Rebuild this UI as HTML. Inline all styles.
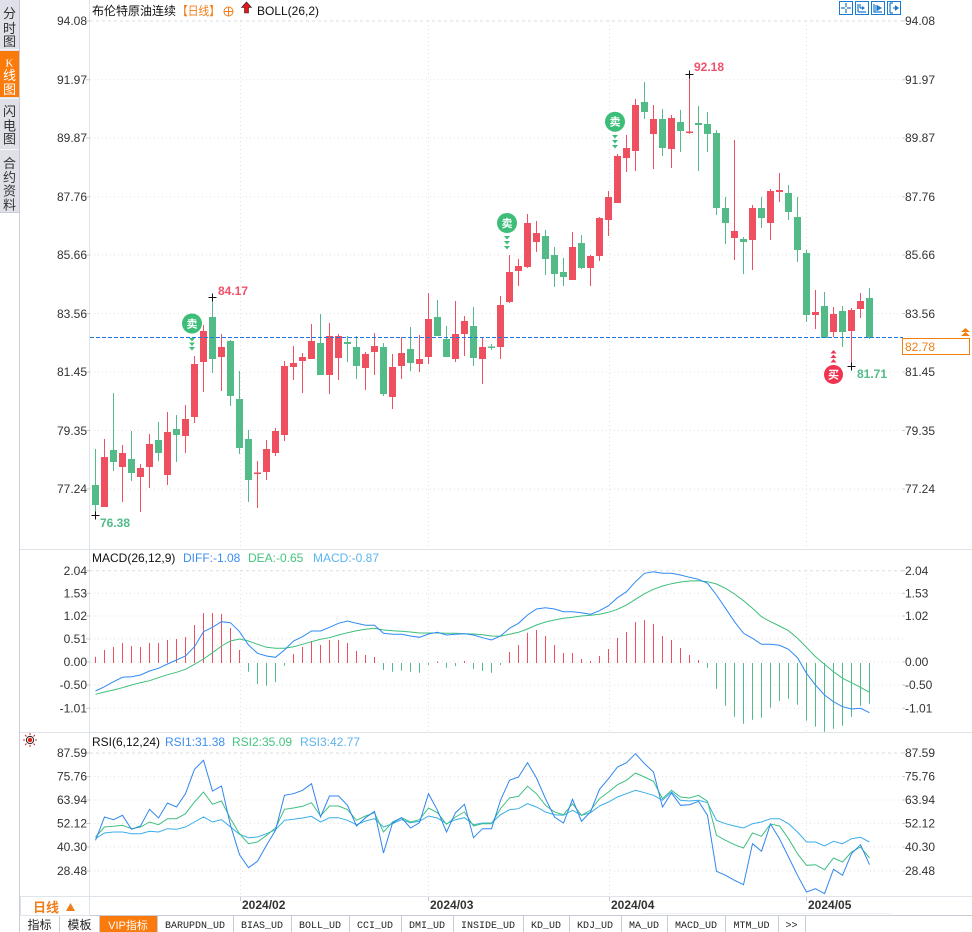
<!DOCTYPE html>
<html><head><meta charset="utf-8"><style>
html,body{margin:0;padding:0;background:#fff;}
svg{display:block;}
text{font-family:"Liberation Sans","Noto Sans CJK SC",sans-serif;}
.ax text{font-size:12px;fill:#333;}
.mono text{font-family:"Liberation Mono","Noto Sans CJK SC",monospace;font-size:10px;fill:#222;}
text.kser{font-family:"Liberation Serif",serif;}
</style></head><body>
<svg width="972" height="932" viewBox="0 0 972 932" xmlns="http://www.w3.org/2000/svg">
<rect x="0" y="0" width="972" height="932" fill="#fff"/>
<!-- sidebar -->
<rect x="0" y="0" width="19" height="212" fill="#dfe0e8"/>
<rect x="0" y="51" width="19" height="46" fill="#fb7a0c"/>
<line x1="0" y1="49.5" x2="19" y2="49.5" stroke="#f4f4f8"/>
<line x1="0" y1="98.5" x2="19" y2="98.5" stroke="#f4f4f8"/>
<line x1="0" y1="149.5" x2="19" y2="149.5" stroke="#f4f4f8"/>
<line x1="19.5" y1="0" x2="19.5" y2="932" stroke="#c9ccd4"/>
<line x1="0" y1="212.5" x2="19" y2="212.5" stroke="#c9ccd4"/>
<g font-size="13" fill="#333" text-anchor="middle">
<text x="9.5" y="18">分</text><text x="9.5" y="33">时</text><text x="9.5" y="46">图</text>
<text x="9.5" y="66.5" fill="#fff" font-size="11" class="kser">K</text><text x="9.5" y="80" fill="#fff">线</text><text x="9.5" y="94" fill="#fff">图</text>
<text x="9.5" y="116">闪</text><text x="9.5" y="130.5">电</text><text x="9.5" y="143.5">图</text>
<text x="9.5" y="168">合</text><text x="9.5" y="182">约</text><text x="9.5" y="195.5">资</text><text x="9.5" y="209.5">料</text>
</g>
<!-- axis frame lines -->
<line x1="89.5" y1="0" x2="89.5" y2="915" stroke="#dfe4ea"/>
<line x1="20" y1="549.5" x2="972" y2="549.5" stroke="#dfe4ea"/>
<line x1="20" y1="732.5" x2="972" y2="732.5" stroke="#dfe4ea"/>
<line x1="20" y1="896.5" x2="972" y2="896.5" stroke="#dfe4ea"/>
<line x1="20" y1="915.5" x2="972" y2="915.5" stroke="#c9ccd4"/>
<line x1="643" y1="913.5" x2="892" y2="913.5" stroke="#eef2f6"/>
<!-- grid main -->
<g stroke="#e2e2e2" stroke-dasharray="1,3">
<line x1="90" y1="79.7" x2="903" y2="79.7"/><line x1="90" y1="138" x2="903" y2="138"/><line x1="90" y1="196.7" x2="903" y2="196.7"/><line x1="90" y1="255" x2="903" y2="255"/><line x1="90" y1="313.5" x2="903" y2="313.5"/><line x1="90" y1="372" x2="903" y2="372"/><line x1="90" y1="430.5" x2="903" y2="430.5"/><line x1="90" y1="489" x2="903" y2="489"/>
<line x1="90" y1="593.3" x2="903" y2="593.3"/><line x1="90" y1="616" x2="903" y2="616"/><line x1="90" y1="639" x2="903" y2="639"/><line x1="90" y1="662" x2="903" y2="662"/><line x1="90" y1="685" x2="903" y2="685"/><line x1="90" y1="708.3" x2="903" y2="708.3"/>
<line x1="90" y1="776.5" x2="903" y2="776.5"/><line x1="90" y1="800" x2="903" y2="800"/><line x1="90" y1="823.5" x2="903" y2="823.5"/><line x1="90" y1="847" x2="903" y2="847"/><line x1="90" y1="871" x2="903" y2="871"/>
<line x1="240.5" y1="21" x2="240.5" y2="548"/><line x1="428.5" y1="21" x2="428.5" y2="548"/><line x1="609.5" y1="21" x2="609.5" y2="548"/><line x1="806.5" y1="21" x2="806.5" y2="548"/>
<line x1="240.5" y1="570" x2="240.5" y2="731"/><line x1="428.5" y1="570" x2="428.5" y2="731"/><line x1="609.5" y1="570" x2="609.5" y2="731"/><line x1="806.5" y1="570" x2="806.5" y2="731"/>
<line x1="240.5" y1="753" x2="240.5" y2="895"/><line x1="428.5" y1="753" x2="428.5" y2="895"/><line x1="609.5" y1="753" x2="609.5" y2="895"/><line x1="806.5" y1="753" x2="806.5" y2="895"/>
</g>
<g stroke="#dcdcdc" stroke-dasharray="3,3">
<line x1="90" y1="21" x2="903" y2="21"/><line x1="90" y1="570.7" x2="903" y2="570.7"/><line x1="90" y1="753" x2="903" y2="753"/>
</g>
<!-- axis tick marks -->
<g stroke="#c8ccd2">
<path d="M86 21H90M86 79.7H90M86 138H90M86 196.7H90M86 255H90M86 313.5H90M86 372H90M86 430.5H90M86 489H90M86 570.7H90M86 593.3H90M86 616H90M86 639H90M86 662H90M86 685H90M86 708.3H90M86 753H90M86 776.5H90M86 800H90M86 823.5H90M86 847H90M86 871H90"/>
<path d="M902 21H905M902 79.7H905M902 138H905M902 196.7H905M902 255H905M902 313.5H905M902 372H905M902 430.5H905M902 489H905M902 570.7H905M902 593.3H905M902 616H905M902 662H905M902 685H905M902 708.3H905M902 753H905M902 776.5H905M902 800H905M902 823.5H905M902 847H905M902 871H905"/>
<path d="M240.5 897V901M428.5 897V901M609.5 897V901M806.5 897V901"/>
</g>
<!-- left axis labels -->
<g class="ax" text-anchor="end">
<text x="87" y="25">94.08</text><text x="87" y="84">91.97</text><text x="87" y="142">89.87</text><text x="87" y="201">87.76</text><text x="87" y="259">85.66</text><text x="87" y="318">83.56</text><text x="87" y="376">81.45</text><text x="87" y="435">79.35</text><text x="87" y="493">77.24</text>
<text x="87" y="575">2.04</text><text x="87" y="597.5">1.53</text><text x="87" y="620">1.02</text><text x="87" y="643">0.51</text><text x="87" y="666">0.00</text><text x="87" y="689">-0.50</text><text x="87" y="712.5">-1.01</text>
<text x="87" y="757">87.59</text><text x="87" y="780.5">75.76</text><text x="87" y="804">63.94</text><text x="87" y="827.5">52.12</text><text x="87" y="851">40.30</text><text x="87" y="875">28.48</text>
</g>
<g class="ax">
<text x="905" y="25">94.08</text><text x="905" y="84">91.97</text><text x="905" y="142">89.87</text><text x="905" y="201">87.76</text><text x="905" y="259">85.66</text><text x="905" y="318">83.56</text><text x="905" y="376">81.45</text><text x="905" y="435">79.35</text><text x="905" y="493">77.24</text>
<text x="905" y="575">2.04</text><text x="905" y="597.5">1.53</text><text x="905" y="620">1.02</text><text x="905" y="666">0.00</text><text x="905" y="689">-0.50</text><text x="905" y="712.5">-1.01</text>
<text x="905" y="757">87.59</text><text x="905" y="780.5">75.76</text><text x="905" y="804">63.94</text><text x="905" y="827.5">52.12</text><text x="905" y="851">40.30</text><text x="905" y="875">28.48</text>
</g>
<!-- header main -->
<text x="92" y="15" font-size="12" fill="#111">布伦特原油连续</text>
<text x="177" y="15" font-size="12" fill="#f07d1a" textLength="43" lengthAdjust="spacingAndGlyphs">【日线】</text>
<circle cx="228.5" cy="11.5" r="4.5" fill="none" stroke="#f07d1a"/>
<path d="M224 11.5H233M228.5 7V16" stroke="#f07d1a"/>
<path d="M241.5 7.5L246.5 2L251.5 7.5H248.5V13H244.5V7.5Z" fill="#e8141c" stroke="#222" stroke-width="0.6"/>
<text x="257" y="15" font-size="12" fill="#111">BOLL(26,2)</text>
<!-- top right icons -->
<g fill="none" stroke="#1a7bd0">
<rect x="839.5" y="1.5" width="13" height="13"/><rect x="855.5" y="1.5" width="13" height="13"/><rect x="871.5" y="1.5" width="13" height="13"/><rect x="887.5" y="1.5" width="13" height="13"/>
<path d="M846 3V7M846 9V13M841 8H845M847 8H851M858 4V12M858 12H866M860 4V8M860 8L864 8" stroke-width="1.2"/>
<path d="M874 4V12H882M876 5V11" stroke-width="1.2"/>
<path d="M890 3V13M890 3H893M890 13H893M893 8H898" stroke-width="1.2"/>
</g>
<path d="M877 5L882 8L877 11Z" fill="#1a7bd0"/><path d="M895 5L899 8L895 11Z" fill="#1a7bd0"/>
<path d="M862 6L865 8L862 10Z" fill="#1a7bd0"/>

<!-- candles -->
<path fill="none" stroke="#52bb88" stroke-width="1" d="M95.5 449V515M113.5 393V471M131.5 431V481M158.5 422V461M176.5 415V462M212.5 297V373M230.5 340V406M239.5 371V454M248.5 430V502M320.5 314V375M347.5 336V362M356.5 336V379M383.5 343V396M410.5 327V371M437.5 300V336M446.5 326V357M473.5 307V366M491.5 344V350M545.5 230V275M554.5 247V287M563.5 258V286M581.5 235V269M644.5 82V119M662.5 109V156M680.5 110V152M698.5 106V171M707.5 112V152M716.5 130V215M725.5 197V244M743.5 237V274M761.5 197V228M788.5 185V220M797.5 197V262M806.5 250V322M824.5 292V338M842.5 306V347M869.5 288V339"/>
<path fill="#52bb88" d="M92 485h7v20h-7zM110 450h7v12h-7zM128 459h7v14h-7zM155 440h7v13h-7zM173 429h7v6h-7zM209 317h7v42h-7zM227 341h7v55h-7zM236 399h7v49h-7zM245 439h7v41h-7zM317 343h7v32h-7zM344 342h7v2h-7zM353 347h7v19h-7zM380 347h7v47h-7zM407 349h7v14h-7zM434 317h7v19h-7zM443 339h7v18h-7zM470 326h7v32h-7zM488 346.5h7v1.5h-7zM542 236h7v23h-7zM551 255h7v19h-7zM560 272h7v5h-7zM578 243h7v25h-7zM641 102h7v10h-7zM659 119h7v29h-7zM677 122h7v9h-7zM695 123h7v2h-7zM704 124h7v10h-7zM713 133h7v75h-7zM722 208h7v15h-7zM740 239h7v3h-7zM758 208h7v10h-7zM785 193h7v19h-7zM794 217h7v33h-7zM803 253h7v62h-7zM821 306h7v32h-7zM839 311h7v21h-7zM866 298h7v40h-7z"/>
<path fill="none" stroke="#ee5060" stroke-width="1" d="M104.5 439V507M122.5 445V502M140.5 464V512M149.5 434V488M167.5 412V485M185.5 405V453M194.5 356V423M203.5 325V392M221.5 334V391M257.5 461V508M266.5 440V480M275.5 428V456M284.5 361V441M293.5 346V380M302.5 353V393M311.5 324V359M329.5 323V394M338.5 334V380M365.5 352V390M374.5 333V375M392.5 354V409M401.5 337V379M419.5 335V372M428.5 293V364M455.5 301V362M464.5 316V356M482.5 337V384M500.5 296V359M509.5 255V303M518.5 259V286M527.5 214V268M536.5 221V252M572.5 232V280M590.5 255V286M599.5 217V261M608.5 191V236M617.5 154V203M626.5 135V172M635.5 99V171M653.5 105V169M671.5 115V168M689.5 74V134M734.5 140V260M752.5 205V270M770.5 189V240M779.5 173V202M815.5 290V329M833.5 307V337M851.5 308V366M860.5 293V318"/>
<path fill="#ee5060" d="M101 457h7v50h-7zM119 453h7v14h-7zM137 468h7v9h-7zM146 444h7v23h-7zM164 432h7v43h-7zM182 419h7v17h-7zM191 364h7v53h-7zM200 331h7v31h-7zM218 347h7v10h-7zM254 472.5h7v1.5h-7zM263 449h7v23h-7zM272 431h7v22h-7zM281 366h7v69h-7zM290 363h7v4h-7zM299 357h7v4h-7zM308 341h7v18h-7zM326 336h7v39h-7zM335 336h7v22h-7zM362 354h7v14h-7zM371 346h7v6h-7zM389 367h7v30h-7zM398 353h7v13h-7zM416 359h7v5h-7zM425 319h7v38h-7zM452 334h7v25h-7zM461 321h7v13h-7zM479 347h7v12h-7zM497 305h7v42h-7zM506 272h7v30h-7zM515 266h7v5h-7zM524 223h7v44h-7zM533 233h7v9h-7zM569 247h7v33h-7zM587 256h7v12h-7zM596 218h7v38h-7zM605 197h7v23h-7zM614 156h7v47h-7zM623 148h7v10h-7zM632 105h7v46h-7zM650 119h7v15h-7zM668 118h7v31h-7zM686 131.5h7v1.5h-7zM731 231h7v7h-7zM749 208h7v32h-7zM767 191h7v32h-7zM776 190h7v2h-7zM812 312h7v3h-7zM830 314h7v18h-7zM848 310h7v21h-7zM857 301h7v8h-7z"/>

<!-- last price dashed line -->
<line x1="90" y1="337.5" x2="903" y2="337.5" stroke="#1e78e0" stroke-dasharray="4,2"/>
<rect x="902.5" y="338.5" width="67" height="16" fill="#fff" stroke="#f08010"/>
<text x="905" y="351" font-size="12" fill="#f08010">82.78</text>
<path d="M961 332L965.5 328L970 332ZM961 336L965.5 332L970 336Z" fill="#f08010"/>

<!-- high/low markers -->
<g stroke="#111" stroke-width="1">
<path d="M208.5 297.5H216.5M212.5 293.5V301.5"/>
<path d="M91.5 515.5H99.5M95.5 511.5V519.5"/>
<path d="M685.5 74.5H693.5M689.5 70.5V78.5"/>
<path d="M847.5 366.5H855.5M851.5 362.5V370.5"/>
</g>
<g font-size="12" font-weight="bold">
<text x="218" y="295" fill="#f0506a">84.17</text>
<text x="100" y="527" fill="#52bb88">76.38</text>
<text x="694" y="71" fill="#f0506a">92.18</text>
<text x="857" y="378" fill="#52bb88">81.71</text>
</g>
<!-- sell markers -->
<g fill="#3dbe78">
<circle cx="192" cy="323.5" r="10"/>
<path d="M189 338h6l-3 3.5zM189 342.5h6l-3 3.5zM189 347h6l-3 3.5z"/>
<circle cx="507" cy="223" r="10"/>
<path d="M504 236h6l-3 3.5zM504 241h6l-3 3.5zM504 246h6l-3 3.5z"/>
<circle cx="615" cy="121.7" r="10"/>
<path d="M612 135h6l-3 3.5zM612 140h6l-3 3.5zM612 145h6l-3 3.5z"/>
</g>
<g font-size="11" fill="#fff" text-anchor="middle" font-weight="bold">
<text x="192" y="327.5">卖</text><text x="507" y="227">卖</text><text x="615" y="125.7">卖</text>
</g>
<g fill="#f0344f">
<circle cx="833.5" cy="374.5" r="9.5"/>
<path d="M830.5 353.5h6l-3 -3.5zM830.5 358h6l-3 -3.5zM830.5 362.5h6l-3 -3.5z"/>
</g>
<text x="833.5" y="378.5" font-size="11" fill="#fff" text-anchor="middle" font-weight="bold">买</text>

<!-- MACD header -->
<text x="92" y="562" font-size="12" fill="#111">MACD(26,12,9)</text>
<text x="183" y="562" font-size="12" fill="#3d8ef0">DIFF:-1.08</text>
<text x="248" y="562" font-size="12" fill="#45c47f">DEA:-0.65</text>
<text x="313" y="562" font-size="12" fill="#5bb5ee">MACD:-0.87</text>
<!-- MACD bars -->
<path fill="none" stroke="#ee5060" stroke-width="1" d="M95.5 663V656.7M104.5 663V650M113.5 663V647M122.5 663V643M131.5 663V646M140.5 663V647M149.5 663V643M158.5 663V643M167.5 663V640M176.5 663V639M185.5 663V637M194.5 663V625M203.5 663V613M212.5 663V613M221.5 663V614M230.5 663V628M239.5 663V650M293.5 663V654M302.5 663V647M311.5 663V641M320.5 663V645M329.5 663V640M338.5 663V640M347.5 663V643M356.5 663V651M365.5 663V655M374.5 663V657M437.5 663V661.5M464.5 663V661M509.5 663V652M518.5 663V645M527.5 663V632.7M536.5 663V630M545.5 663V636M554.5 663V645M563.5 663V653M572.5 663V653M581.5 663V659M590.5 663V661M599.5 663V656M608.5 663V649M617.5 663V638M626.5 663V632M635.5 663V622M644.5 663V620M653.5 663V624M662.5 663V636M671.5 663V640M680.5 663V648M689.5 663V655M698.5 663V660"/>
<path fill="none" stroke="#52bb88" stroke-width="1" d="M248.5 663V671.7M257.5 663V684M266.5 663V685.7M275.5 663V682M284.5 663V665.7M383.5 663V670M392.5 663V671.7M401.5 663V670.7M410.5 663V671.7M419.5 663V672.7M428.5 663V665M446.5 663V667.7M455.5 663V666M473.5 663V669M482.5 663V671M491.5 663V672.7M500.5 663V665M707.5 663V667.7M716.5 663V688.7M725.5 663V705.7M734.5 663V716.7M743.5 663V723.7M752.5 663V719.7M761.5 663V717.7M770.5 663V707.7M779.5 663V700.7M788.5 663V698.7M797.5 663V704.7M806.5 663V720.7M815.5 663V726.7M824.5 663V731.7M833.5 663V728.7M842.5 663V725.7M851.5 663V716.7M860.5 663V705.7M869.5 663V703.7"/>
<polyline fill="none" stroke="#3dbf7c" stroke-width="1" points="95.5,694.3 104.5,692 113.5,690 122.5,687.7 131.5,685 140.5,682.7 149.5,680.7 158.5,677.7 167.5,674.7 176.5,672.3 185.5,669.3 194.5,664.3 203.5,659 212.5,652.7 221.5,646 230.5,641 239.5,639 248.5,641 257.5,644.3 266.5,647.3 275.5,648.3 284.5,648.3 293.5,646.7 302.5,644.3 311.5,641.7 320.5,639.3 329.5,637.7 338.5,635 347.5,632.7 356.5,630.7 365.5,629.3 374.5,628.3 383.5,630 392.5,630.7 401.5,631.3 410.5,632 419.5,633 428.5,633 437.5,633 446.5,633.3 455.5,633.3 464.5,633.7 473.5,634 482.5,634.7 491.5,636 500.5,636.3 509.5,634.3 518.5,632.3 527.5,629 536.5,625 545.5,622 554.5,620 563.5,618.3 572.5,617.3 581.5,616 590.5,615.3 599.5,614.3 608.5,612.3 617.5,609.3 626.5,605 635.5,599.3 644.5,593.7 653.5,589.3 662.5,586 671.5,583.7 680.5,582 689.5,581 698.5,580.7 707.5,581.7 716.5,584 725.5,588.3 734.5,594 743.5,600.7 752.5,608.3 761.5,616.7 770.5,621.7 779.5,626 788.5,630.7 797.5,638.3 806.5,647.3 815.5,656.7 824.5,664.3 833.5,671.7 842.5,678.3 851.5,682.7 860.5,687.3 869.5,692.3"/>
<polyline fill="none" stroke="#2f8af5" stroke-width="1" points="95.5,691 104.5,686.7 113.5,681.7 122.5,677.3 131.5,676.7 140.5,675 149.5,671 158.5,668.3 167.5,664 176.5,660 185.5,656 194.5,646.7 203.5,631.7 212.5,627.3 221.5,621.7 230.5,622.7 239.5,631.7 248.5,645 257.5,653.3 266.5,656 275.5,657.3 284.5,650 293.5,641 302.5,636.7 311.5,631 320.5,631 329.5,627.3 338.5,623.3 347.5,621 356.5,623.3 365.5,625.3 374.5,625.3 383.5,633.3 392.5,634.3 401.5,634.3 410.5,636 419.5,637.3 428.5,634 437.5,632.3 446.5,635 455.5,634.3 464.5,633.7 473.5,635 482.5,637.7 491.5,640 500.5,636 509.5,628.3 518.5,623.3 527.5,615 536.5,609 545.5,607.7 554.5,609 563.5,611.7 572.5,611.7 581.5,612.7 590.5,614.3 599.5,610.7 608.5,605.7 617.5,597.7 626.5,591.7 635.5,581.7 644.5,573.3 653.5,571.7 662.5,573.3 671.5,573.3 680.5,575 689.5,577.3 698.5,579.3 707.5,583.3 716.5,595 725.5,608.3 734.5,621.7 743.5,633.3 752.5,638.3 761.5,644.3 770.5,644.3 779.5,645.3 788.5,649.3 797.5,657.7 806.5,673.3 815.5,685 824.5,695 833.5,701.7 842.5,706.7 851.5,709 860.5,708.3 869.5,712.7"/>

<!-- RSI header -->
<g transform="translate(30,740)">
<path d="M-7 0H-5M5 0H7M0 -7V-5M0 5V7M-5 -5L-3.5 -3.5M5 -5L3.5 -3.5M-5 5L-3.5 3.5M5 5L3.5 3.5" stroke="#e0201c" stroke-width="1"/>
<circle r="3.6" fill="none" stroke="#222" stroke-width="1"/>
<circle r="2.2" fill="#e0201c"/>
</g>
<text x="92" y="746" font-size="12" fill="#111">RSI(6,12,24)</text>
<text x="165" y="746" font-size="12" fill="#3d8ef0">RSI1:31.38</text>
<text x="232" y="746" font-size="12" fill="#45c47f">RSI2:35.09</text>
<text x="300" y="746" font-size="12" fill="#5bb5ee">RSI3:42.77</text>
<polyline fill="none" stroke="#3aaee8" stroke-width="1" points="95.5,838.7 104.5,833 113.5,832 122.5,832 131.5,833.7 140.5,833.7 149.5,831.3 158.5,832 167.5,828.7 176.5,829.3 185.5,827 194.5,822 203.5,817 212.5,822 221.5,819.7 230.5,827 239.5,834.3 248.5,837.7 257.5,837 266.5,833.7 275.5,829.7 284.5,820.3 293.5,819.3 302.5,818 311.5,816.3 320.5,822 329.5,817.7 338.5,817.7 347.5,820.3 356.5,824.7 365.5,821 374.5,818.7 383.5,827 392.5,823.7 401.5,819.7 410.5,822.7 419.5,821.3 428.5,816 437.5,818 446.5,823.7 455.5,819.7 464.5,817.7 473.5,824.7 482.5,823 491.5,823 500.5,814.7 509.5,809.7 518.5,808.7 527.5,803.7 536.5,807 545.5,812 554.5,814.7 563.5,815.3 572.5,810.3 581.5,815.3 590.5,812.7 599.5,806 608.5,802 617.5,797 626.5,793.7 635.5,790.3 644.5,792.7 653.5,795.3 662.5,800.3 671.5,792 680.5,800.3 689.5,801 698.5,800.3 707.5,802.7 716.5,820.3 725.5,823.7 734.5,826 743.5,828 752.5,823.7 761.5,822 770.5,818.7 779.5,818.7 788.5,823.7 797.5,832 806.5,842 815.5,842 824.5,846 833.5,841.3 842.5,843.7 851.5,838.7 860.5,837.3 869.5,842"/>
<polyline fill="none" stroke="#3fc080" stroke-width="1" points="95.5,837 104.5,827 113.5,826.3 122.5,825.3 131.5,828.7 140.5,827 149.5,822 158.5,824.7 167.5,818.7 176.5,818.7 185.5,813.7 194.5,802 203.5,792 212.5,804.3 221.5,801 230.5,818.7 239.5,833.7 248.5,843.7 257.5,842 266.5,835.3 275.5,828 284.5,809.3 293.5,808 302.5,806.3 311.5,802.7 320.5,816 329.5,806 338.5,806 347.5,809.7 356.5,820.3 365.5,816 374.5,812.7 383.5,832 392.5,822 401.5,817.7 410.5,822 419.5,819.7 428.5,808 437.5,812.7 446.5,824.3 455.5,817 464.5,812 473.5,826 482.5,823.7 491.5,823.7 500.5,808.7 509.5,798 518.5,796.3 527.5,786.3 536.5,793.7 545.5,805.3 554.5,812 563.5,814.7 572.5,803.7 581.5,815.3 590.5,810.3 599.5,798.7 608.5,792 617.5,784.7 626.5,780.3 635.5,773 644.5,777 653.5,781.3 662.5,798.7 671.5,790.3 680.5,797 689.5,798 698.5,795.3 707.5,801.3 716.5,835.3 725.5,840.3 734.5,844.7 743.5,848 752.5,833 761.5,836.3 770.5,824 779.5,826 788.5,838.7 797.5,853.7 806.5,865.3 815.5,864.7 824.5,869.7 833.5,858 842.5,862 851.5,852 860.5,847 869.5,858"/>
<polyline fill="none" stroke="#2f86f0" stroke-width="1" points="95.5,840.3 104.5,817 113.5,819.7 122.5,815.3 131.5,829.3 140.5,826 149.5,809.3 158.5,818 167.5,803 176.5,807 185.5,793.7 194.5,769.3 203.5,760.3 212.5,791 221.5,786 230.5,825.3 239.5,854.7 248.5,867.7 257.5,861.3 266.5,845.3 275.5,830.3 284.5,795.3 293.5,793.7 302.5,790.3 311.5,783.7 320.5,817 329.5,796 338.5,796 347.5,805.3 356.5,826 365.5,817.7 374.5,811.3 383.5,853 392.5,823 401.5,817.7 410.5,828 419.5,822.7 428.5,793.7 437.5,810.3 446.5,832 455.5,812.7 464.5,804.3 473.5,837.7 482.5,828.7 491.5,828.7 500.5,800.3 509.5,780.3 518.5,777 527.5,762.7 536.5,778 545.5,798.7 554.5,817 563.5,823 572.5,799.3 581.5,821.3 590.5,812 599.5,789.3 608.5,778.7 617.5,767 626.5,762.7 635.5,753.7 644.5,763.7 653.5,772 662.5,807 671.5,793 680.5,805.3 689.5,804.7 698.5,801.3 707.5,815.3 716.5,871.3 725.5,875.3 734.5,880.3 743.5,884.7 752.5,843.7 761.5,851.3 770.5,824 779.5,838.7 788.5,857 797.5,875.3 806.5,892 815.5,888.7 824.5,893.7 833.5,869.3 842.5,875.3 851.5,853.7 860.5,844.7 869.5,864.7"/>

<!-- date axis -->
<g font-size="12" font-weight="bold" fill="#333">
<text x="242" y="909">2024/02</text><text x="430" y="909">2024/03</text><text x="611" y="909">2024/04</text><text x="808" y="909">2024/05</text>
</g>
<rect x="20.5" y="896.5" width="69" height="19" fill="none" stroke="#dfe4ea"/>
<text x="33" y="912" font-size="13" font-weight="bold" fill="#f07d1a">日线</text>
<path d="M66 911L70.5 903L75 911Z" fill="#f07d1a"/>

<!-- tabs -->
<rect x="99" y="916" width="58" height="16" fill="#fb7a0c"/>
<g stroke="#c9ccd4">
<path d="M59.5 916V932M99.5 916V932M157.5 916V932M233.5 916V932M291.5 916V932M349.5 916V932M401.5 916V932M453.5 916V932M523.5 916V932M569.5 916V932M621.5 916V932M667.5 916V932M725.5 916V932M778.5 916V932M805.5 916V932"/>
</g>
<text x="39.5" y="929" font-size="12" fill="#222" text-anchor="middle">指标</text>
<text x="79.5" y="929" font-size="12" fill="#222" text-anchor="middle">模板</text>
<text x="128" y="929" font-size="11" fill="#fff" text-anchor="middle">VIP指标</text>
<g class="mono" text-anchor="middle">
<text x="195" y="928">BARUPDN_UD</text>
<text x="262" y="928">BIAS_UD</text>
<text x="320" y="928">BOLL_UD</text>
<text x="375" y="928">CCI_UD</text>
<text x="427" y="928">DMI_UD</text>
<text x="488" y="928">INSIDE_UD</text>
<text x="546" y="928">KD_UD</text>
<text x="595" y="928">KDJ_UD</text>
<text x="644" y="928">MA_UD</text>
<text x="696" y="928">MACD_UD</text>
<text x="751.5" y="928">MTM_UD</text>
<text x="791.5" y="928">&gt;&gt;</text>
</g>
</svg>
</body></html>
